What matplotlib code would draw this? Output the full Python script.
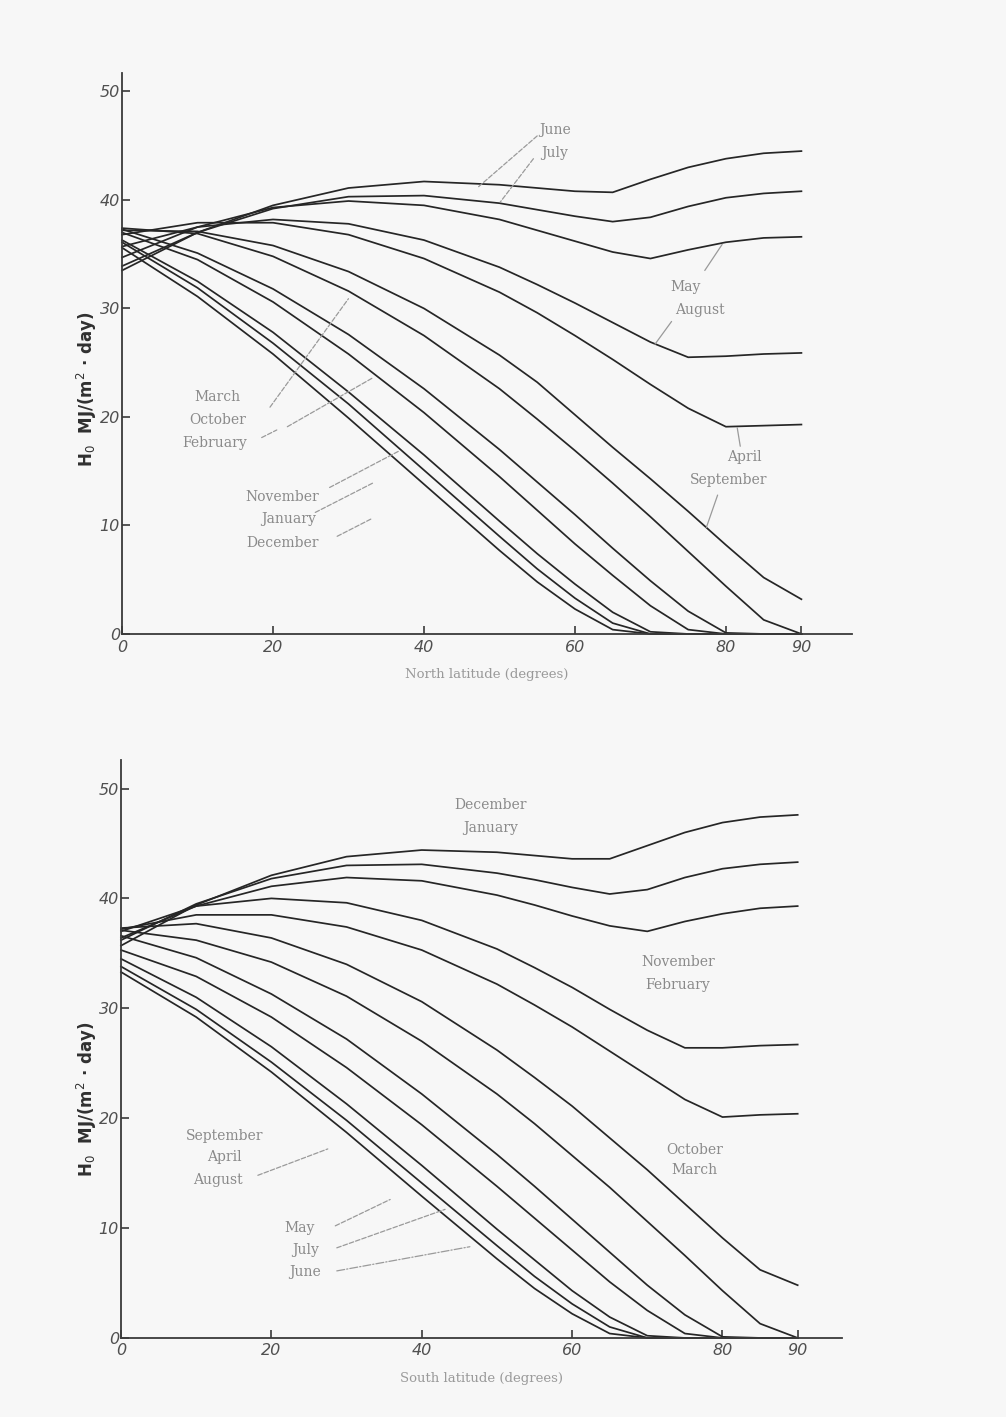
import matplotlib
matplotlib.use("Agg")
import matplotlib.pyplot as plt

# ---------------- data ----------------
LAT = [0, 10, 20, 30, 40, 50, 55, 60, 65, 70, 75, 80, 85, 90]

# North latitude panel (top)
N_JUN = [33.5, 37.0, 39.5, 41.1, 41.7, 41.4, 41.1, 40.8, 40.7, 41.9, 43.0, 43.8, 44.3, 44.5]
N_JUL = [33.9, 37.0, 39.2, 40.3, 40.4, 39.7, 39.1, 38.5, 38.0, 38.4, 39.4, 40.2, 40.6, 40.8]
N_MAY = [34.7, 37.5, 39.3, 39.9, 39.5, 38.2, 37.2, 36.2, 35.2, 34.6, 35.4, 36.1, 36.5, 36.6]
N_AUG = [35.7, 37.5, 38.2, 37.8, 36.3, 33.8, 32.2, 30.5, 28.7, 26.9, 25.5, 25.6, 25.8, 25.9]
N_APR = [36.8, 37.9, 37.9, 36.8, 34.6, 31.5, 29.6, 27.5, 25.3, 23.0, 20.8, 19.1, 19.2, 19.3]
N_SEP = [37.2, 37.1, 35.8, 33.4, 30.0, 25.7, 23.2, 20.2, 17.2, 14.3, 11.3, 8.2, 5.2, 3.2]
N_MAR = [37.4, 36.9, 34.8, 31.6, 27.5, 22.6, 19.8, 16.9, 13.9, 10.8, 7.6, 4.4, 1.3, 0.0]
N_OCT = [37.3, 35.1, 31.8, 27.6, 22.6, 17.0, 14.0, 11.0, 7.9, 4.9, 2.1, 0.1, 0.0, 0.0]
N_FEB = [37.0, 34.5, 30.6, 25.8, 20.4, 14.5, 11.4, 8.3, 5.4, 2.6, 0.4, 0.0, 0.0, 0.0]
N_NOV = [36.3, 32.5, 27.8, 22.3, 16.5, 10.4, 7.4, 4.6, 2.0, 0.2, 0.0, 0.0, 0.0, 0.0]
N_JAN = [36.1, 31.9, 26.8, 21.2, 15.1, 9.0, 6.0, 3.3, 1.0, 0.0, 0.0, 0.0, 0.0, 0.0]
N_DEC = [35.6, 31.1, 25.8, 19.9, 13.8, 7.7, 4.8, 2.3, 0.4, 0.0, 0.0, 0.0, 0.0, 0.0]

# South latitude panel (bottom)
S_DEC = [35.7, 39.4, 42.1, 43.8, 44.4, 44.2, 43.9, 43.6, 43.6, 44.8, 46.0, 46.9, 47.4, 47.6]
S_JAN = [36.2, 39.5, 41.8, 43.0, 43.1, 42.3, 41.7, 41.0, 40.4, 40.8, 41.9, 42.7, 43.1, 43.3]
S_NOV = [36.4, 39.3, 41.1, 41.9, 41.6, 40.3, 39.4, 38.4, 37.5, 37.0, 37.9, 38.6, 39.1, 39.3]
S_FEB = [37.0, 39.3, 40.0, 39.6, 38.0, 35.4, 33.7, 31.9, 29.9, 28.0, 26.4, 26.4, 26.6, 26.7]
S_OCT = [37.2, 38.5, 38.5, 37.4, 35.3, 32.2, 30.3, 28.3, 26.1, 23.9, 21.7, 20.1, 20.3, 20.4]
S_MAR = [37.3, 37.7, 36.4, 34.0, 30.6, 26.2, 23.7, 21.1, 18.2, 15.3, 12.2, 9.1, 6.2, 4.8]
S_SEP = [37.1, 36.2, 34.2, 31.1, 27.0, 22.2, 19.5, 16.6, 13.7, 10.6, 7.5, 4.3, 1.3, 0.0]
S_APR = [36.6, 34.6, 31.3, 27.2, 22.2, 16.7, 13.8, 10.8, 7.8, 4.8, 2.1, 0.1, 0.0, 0.0]
S_AUG = [35.3, 32.9, 29.2, 24.6, 19.4, 13.8, 10.9, 8.0, 5.1, 2.5, 0.4, 0.0, 0.0, 0.0]
S_MAY = [34.5, 31.0, 26.5, 21.3, 15.7, 9.9, 7.1, 4.3, 1.9, 0.2, 0.0, 0.0, 0.0, 0.0]
S_JUL = [33.8, 29.9, 25.1, 19.8, 14.1, 8.4, 5.6, 3.1, 1.0, 0.0, 0.0, 0.0, 0.0, 0.0]
S_JUN = [33.3, 29.2, 24.2, 18.7, 12.9, 7.2, 4.5, 2.2, 0.4, 0.0, 0.0, 0.0, 0.0, 0.0]

NORTH = [N_JUN, N_JUL, N_MAY, N_AUG, N_APR, N_SEP, N_MAR, N_OCT, N_FEB, N_NOV, N_JAN, N_DEC]
SOUTH = [S_DEC, S_JAN, S_NOV, S_FEB, S_OCT, S_MAR, S_SEP, S_APR, S_AUG, S_MAY, S_JUL, S_JUN]

X_TICKS = [0, 20, 40, 60, 80, 90]
Y_TICKS = [0, 10, 20, 30, 40, 50]

# month labels: (text, lat, value)
N_LABELS = [("June", 57.3, 46.4), ("July", 57.3, 44.3),
            ("May", 74.7, 32.0), ("August", 76.6, 29.9),
            ("April", 82.5, 16.3), ("September", 80.3, 14.2),
            ("March", 12.7, 21.8), ("October", 12.7, 19.7), ("February", 12.3, 17.6),
            ("November", 21.2, 12.6), ("January", 22.0, 10.6), ("December", 21.2, 8.4)]
S_LABELS = [("December", 49.1, 48.5), ("January", 49.1, 46.4),
            ("November", 74.1, 34.2), ("February", 74.1, 32.1),
            ("October", 76.3, 17.1), ("March", 76.3, 15.3),
            ("September", 13.8, 18.4), ("April", 13.8, 16.5), ("August", 12.9, 14.4),
            ("May", 23.8, 10.0), ("July", 24.5, 8.0), ("June", 24.5, 6.0)]

# leader lines: (start lat, start val, end lat, end val, style)
N_LEADERS = [(55.0, 45.9, 47.2, 41.2, "--"), (54.5, 43.8, 50.1, 39.8, "--"),
             (77.2, 33.5, 79.5, 35.9, "-"), (72.8, 28.8, 70.6, 26.7, "-"),
             (81.9, 17.3, 81.5, 19.0, "-"), (78.9, 12.8, 77.4, 9.8, "-"),
             (19.6, 20.9, 30.0, 30.9, "--"), (21.9, 19.1, 33.2, 23.6, "--"),
             (18.5, 18.1, 20.5, 18.8, "--"),
             (27.5, 13.5, 36.8, 16.9, "--"), (25.6, 11.2, 33.2, 13.9, "--"),
             (28.5, 9.0, 33.0, 10.6, "--")]
S_LEADERS = [(18.2, 14.8, 27.5, 17.2, "--"),
             (28.5, 10.2, 35.8, 12.6, "--"), (28.7, 8.2, 43.1, 11.7, "--"),
             (28.7, 6.1, 46.4, 8.3, "-.")]

LINE_C = "#262626"
TXT_C = "#8a8a8a"

fig = plt.figure(figsize=(10.06, 14.17), dpi=100, facecolor="#f7f7f7")
ax1 = fig.add_axes([0.1213, 0.5526, 0.7256, 0.3959])
ax2 = fig.add_axes([0.1203, 0.0558, 0.7167, 0.4079])


def style(ax, xmax, ymax, xlabel):
    ax.set_facecolor("#f7f7f7")
    ax.set_xlim(0, xmax)
    ax.set_ylim(0, ymax)
    for s in ("top", "right"):
        ax.spines[s].set_visible(False)
    for s in ("left", "bottom"):
        ax.spines[s].set_color("#3a3a3a")
        ax.spines[s].set_linewidth(1.3)
    ax.set_xticks(X_TICKS)
    ax.set_yticks(Y_TICKS)
    ax.tick_params(direction="in", length=6, width=1.2, colors="#3a3a3a",
                   labelsize=11.5, labelcolor="#505050")
    ax.tick_params(axis="y", pad=1.5)
    ax.tick_params(axis="x", pad=4)
    for lab in ax.get_xticklabels() + ax.get_yticklabels():
        lab.set_fontstyle("italic")
    ax.set_xlabel(xlabel, fontsize=9.5, color="#9a9a9a", family="DejaVu Serif", labelpad=10)


def draw(ax, series, labels, leaders):
    for vals in series:
        ax.plot(LAT, vals, color=LINE_C, lw=1.25, solid_joinstyle="round",
                clip_on=False)
    for txt, x, y in labels:
        ax.text(x, y, txt, ha="center", va="center", fontsize=10,
                family="DejaVu Serif", color=TXT_C)
    for x0, y0, x1, y1, ls in leaders:
        ax.annotate("", xy=(x1, y1), xytext=(x0, y0),
                    arrowprops=dict(arrowstyle="-", color="#9a9a9a", lw=0.9,
                                    linestyle=ls, shrinkA=0, shrinkB=0))


style(ax1, 96.7, 51.7, "North latitude (degrees)")
style(ax2, 95.9, 52.6, "South latitude (degrees)")
draw(ax1, NORTH, N_LABELS, N_LEADERS)
draw(ax2, SOUTH, S_LABELS, S_LEADERS)

ylab = r"H$_0$  MJ/(m$^2$ · day)"
fig.text(0.086, 0.725, ylab, rotation=90, ha="center", va="center",
         fontsize=12, fontweight="bold", color="#303030")
fig.text(0.086, 0.224, ylab, rotation=90, ha="center", va="center",
         fontsize=12, fontweight="bold", color="#303030")

fig.savefig("out.png", dpi=100, facecolor=fig.get_facecolor())
